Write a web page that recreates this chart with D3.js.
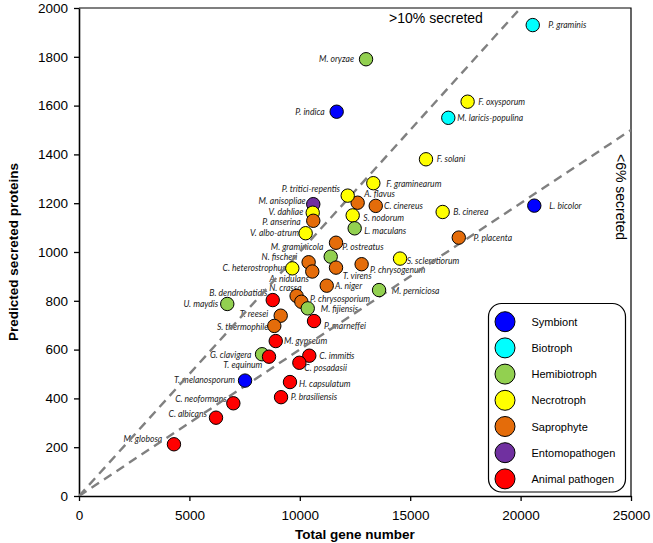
<!DOCTYPE html>
<html>
<head>
<meta charset="utf-8">
<script src="https://cdn.jsdelivr.net/npm/d3@7"></script>
<style>
  html, body { margin: 0; padding: 0; background: #fff; }
  svg { display: block; }
</style>
</head>
<body>
<svg id="chart" width="653" height="543"></svg>
<script>
// ---------------- DATA ----------------
const groupNames = ["Symbiont", "Biotroph", "Hemibiotroph", "Necrotroph", "Saprophyte", "Entomopathogen", "Animal pathogen"];
const groupColors = ["#0000FF", "#00FFFF", "#92D050", "#FFFF00", "#E46C0A", "#7030A0", "#FF0000"];

const species = [
  "P. graminis", "M. laricis-populina", "M. oryzae", "P. indica", "F. oxysporum", "F. solani",
  "F. graminearum", "A. flavus", "C. cinereus", "B. cinerea", "L. bicolor", "P. tritici-repentis",
  "M. anisopliae", "V. dahliae", "P. anserina", "S. nodorum", "L. maculans", "V. albo-atrum",
  "P. ostreatus", "M. graminicola", "N. fischeri", "C. heterostrophus", "A. nidulans", "T. virens",
  "P. chrysogenum", "S. sclerotiorum", "P. placenta", "A. niger", "M. perniciosa", "B. dendrobatidis",
  "N. crassa", "P. chrysosporium", "U. maydis", "M. fijiensis", "T. reesei", "S. thermophile",
  "P. marneffei", "M. gypseum", "G. clavigera", "T. equinum", "C. immitis", "C. posadasii",
  "T. melanosporum", "H. capsulatum", "P. brasiliensis", "C. neoformans", "C. albicans", "M. globosa"
];
const lifestyle = [
  "Biotroph", "Biotroph", "Hemibiotroph", "Symbiont", "Necrotroph", "Necrotroph",
  "Necrotroph", "Saprophyte", "Saprophyte", "Necrotroph", "Symbiont", "Necrotroph",
  "Entomopathogen", "Necrotroph", "Saprophyte", "Necrotroph", "Hemibiotroph", "Necrotroph",
  "Saprophyte", "Hemibiotroph", "Saprophyte", "Necrotroph", "Saprophyte", "Saprophyte",
  "Saprophyte", "Necrotroph", "Saprophyte", "Saprophyte", "Hemibiotroph", "Animal pathogen",
  "Saprophyte", "Saprophyte", "Hemibiotroph", "Hemibiotroph", "Saprophyte", "Saprophyte",
  "Animal pathogen", "Animal pathogen", "Hemibiotroph", "Animal pathogen", "Animal pathogen", "Animal pathogen",
  "Symbiont", "Animal pathogen", "Animal pathogen", "Animal pathogen", "Animal pathogen", "Animal pathogen"
];
const totalGenes = [
  20550, 16725, 13000, 11670, 17600, 15715,
  13330, 12620, 13440, 16470, 20620, 12170,
  10610, 10585, 10610, 12395, 12485, 10265,
  11640, 11400, 10400, 9660, 10565, 11640,
  12800, 14540, 17200, 11220, 13590, 8775,
  9855, 10070, 6715, 10360, 9135, 8845,
  10645, 8910, 8290, 8605, 10430, 9980,
  7520, 9555, 9150, 6990, 6205, 4300
];
const secretedProteins = [
  1930, 1550, 1790, 1575, 1616, 1380,
  1282, 1202, 1189, 1164, 1190, 1231,
  1196, 1161, 1128, 1150, 1097, 1077,
  1038, 981, 958, 933, 920, 936,
  950, 973, 1059, 862, 844, 803,
  820, 796, 787, 769, 739, 697,
  717, 635, 581, 571, 575, 546,
  473, 467, 405, 380, 321, 212
];
const xTicks = [0, 5000, 10000, 15000, 20000, 25000];
const yTicks = [0, 200, 400, 600, 800, 1000, 1200, 1400, 1600, 1800, 2000];
const refLines = [
  { label: ">10% secreted", fraction: 0.10 },
  { label: "<6% secreted", fraction: 0.06 }
];

// ---------------- LAYOUT (label placement, px relative to marker) ----------------
const labelLayout = {
  "P. graminis": ["start", 15.6, 0], "M. laricis-populina": ["start", 9, 0],
  "M. oryzae": ["end", -12, 0], "P. indica": ["end", -12, 0],
  "F. oxysporum": ["start", 10.6, 0], "F. solani": ["start", 10.7, 0],
  "F. graminearum": ["start", 13, 1], "A. flavus": ["start", 6.6, -9],
  "C. cinereus": ["start", 8.3, 0], "B. cinerea": ["start", 10.6, 0],
  "L. bicolor": ["start", 15, 0], "P. tritici-repentis": ["end", -7.7, -6.4],
  "M. anisopliae": ["end", -7.6, -3.6], "V. dahliae": ["end", -9.4, -0.6],
  "P. anserina": ["end", -12.6, 1.2], "S. nodorum": ["start", 10.6, 3],
  "L. maculans": ["start", 9.6, 2.4], "V. albo-atrum": ["end", -6.7, 0],
  "P. ostreatus": ["start", 6.3, 4], "M. graminicola": ["end", -7.4, -9.8],
  "N. fischeri": ["end", -11.4, -5.2], "C. heterostrophus": ["end", -6.6, 0],
  "A. nidulans": ["end", -3.3, 7.6], "T. virens": ["start", 6.7, 8],
  "P. chrysogenum": ["start", 8.3, 5.7], "S. sclerotiorum": ["start", 6.7, 2.3],
  "P. placenta": ["start", 14.6, 0.6], "A. niger": ["start", 8.3, 0],
  "M. perniciosa": ["start", 12.7, 1], "B. dendrobatidis": ["end", -5.4, -7.3],
  "N. crassa": ["start", -27.4, -7.6], "P. chrysosporium": ["start", 8.7, -2.4],
  "U. maydis": ["end", -9, 0], "M. fijiensis": ["start", 13, 1],
  "T. reesei": ["end", -12.4, -1.7], "S. thermophile": ["end", -6, 1.3],
  "P. marneffei": ["start", 10, 5], "M. gypseum": ["start", 8.3, 0],
  "G. clavigera": ["end", -10.6, 0.8], "T. equinum": ["end", -6.7, 8.6],
  "C. immitis": ["start", 10, 0.3], "C. posadasii": ["start", 5, 5.3],
  "T. melanosporum": ["end", -10, -0.7], "H. capsulatum": ["start", 9, 1.7],
  "P. brasiliensis": ["start", 9.7, 0], "C. neoformans": ["end", -6.6, -4],
  "C. albicans": ["end", -9, -3.7], "M. globosa": ["end", -11.7, -5]
};

// ---------------- DRAW ----------------
const svg = d3.select("#chart");
const m = { left: 79, right: 631, top: 8, bottom: 496 };
const x = d3.scaleLinear().domain([0, 25000]).range([m.left, m.right]);
const y = d3.scaleLinear().domain([0, 2000]).range([m.bottom, m.top]);
const color = d3.scaleOrdinal().domain(groupNames).range(groupColors);

const points = species.map((s, i) => ({
  name: s, group: lifestyle[i], genes: totalGenes[i], secreted: secretedProteins[i]
}));

// frame (top/right)
svg.append("path")
  .attr("d", `M${m.left},${m.top}H${m.right}V${m.bottom}`)
  .attr("fill", "none").attr("stroke", "#000").attr("stroke-width", 1.2);

// axes
const axisFont = "'Liberation Sans', Arial, sans-serif";
const gx = svg.append("g").attr("transform", `translate(0,${m.bottom})`)
  .call(d3.axisBottom(x).tickValues(xTicks).tickFormat(d3.format("d")).tickSize(5).tickSizeOuter(0).tickPadding(9));
const gy = svg.append("g").attr("transform", `translate(${m.left},0)`)
  .call(d3.axisLeft(y).tickValues(yTicks).tickFormat(d3.format("d")).tickSize(5).tickSizeOuter(0).tickPadding(6));
[gx, gy].forEach(g => {
  g.select(".domain").attr("stroke", "#000").attr("stroke-width", 1.6);
  g.selectAll(".tick line").attr("stroke", "#000").attr("stroke-width", 1.3);
  g.selectAll(".tick text").attr("fill", "#000").style("font-family", axisFont).style("font-size", "13.5px");
});

// axis titles
svg.append("text").attr("x", (m.left + m.right) / 2).attr("y", 539)
  .attr("text-anchor", "middle").style("font-family", axisFont).style("font-size", "13.5px")
  .style("font-weight", "bold").text("Total gene number");
svg.append("text").attr("transform", `translate(18,${(m.top + m.bottom) / 2}) rotate(-90)`)
  .attr("text-anchor", "middle").style("font-family", axisFont).style("font-size", "13.5px")
  .style("font-weight", "bold").text("Predicted secreted proteins");

// point labels
const labelFont = "Lato, 'Open Sans', sans-serif";
svg.append("g").selectAll("text").data(points).join("text")
  .attr("x", d => x(d.genes) + labelLayout[d.name][1])
  .attr("y", d => y(d.secreted) + labelLayout[d.name][2])
  .attr("text-anchor", d => labelLayout[d.name][0])
  .attr("dominant-baseline", "central")
  .style("font-family", labelFont).style("font-style", "italic").style("font-size", "8.6px")
  .attr("fill", "#222")
  .text(d => d.name);

// reference lines (clipped to plot area)
svg.append("clipPath").attr("id", "plotclip").append("rect")
  .attr("x", m.left).attr("y", m.top).attr("width", m.right - m.left).attr("height", m.bottom - m.top);
svg.append("g").attr("clip-path", "url(#plotclip)").selectAll("line").data(refLines).join("line")
  .attr("x1", x(0)).attr("y1", y(0))
  .attr("x2", d => x(Math.min(25000, 2000 / d.fraction)))
  .attr("y2", d => y(Math.min(25000, 2000 / d.fraction) * d.fraction))
  .attr("stroke", "#808080").attr("stroke-width", 2.4).attr("stroke-dasharray", "9,6");

// ref line captions
svg.append("text").attr("x", 436).attr("y", 18).attr("dominant-baseline", "central")
  .attr("text-anchor", "middle").style("font-family", axisFont).style("font-size", "14px")
  .text(refLines[0].label);
svg.append("text").attr("transform", `translate(620.5,197) rotate(90)`).attr("dominant-baseline", "central")
  .attr("text-anchor", "middle").style("font-family", axisFont).style("font-size", "14px")
  .text(refLines[1].label);

// markers
svg.append("g").selectAll("circle").data(points).join("circle")
  .attr("cx", d => x(d.genes)).attr("cy", d => y(d.secreted)).attr("r", 6.7)
  .attr("fill", d => color(d.group)).attr("stroke", "#000").attr("stroke-width", 1);

// legend
const lg = svg.append("g");
lg.append("rect").attr("x", 488.5).attr("y", 303.5).attr("width", 137).attr("height", 188.5)
  .attr("rx", 13).attr("ry", 13).attr("fill", "#fff").attr("stroke", "#000").attr("stroke-width", 1.2);
const rows = lg.selectAll("g.row").data(groupNames).join("g").attr("class", "row")
  .attr("transform", (d, i) => `translate(505,${321.7 + i * 26.2})`);
rows.append("circle").attr("r", 10).attr("fill", d => color(d)).attr("stroke", "#000").attr("stroke-width", 1);
rows.append("text").attr("x", 26.5).attr("dominant-baseline", "central")
  .style("font-family", axisFont).style("font-size", "11px").text(d => d);
</script>
</body>
</html>
